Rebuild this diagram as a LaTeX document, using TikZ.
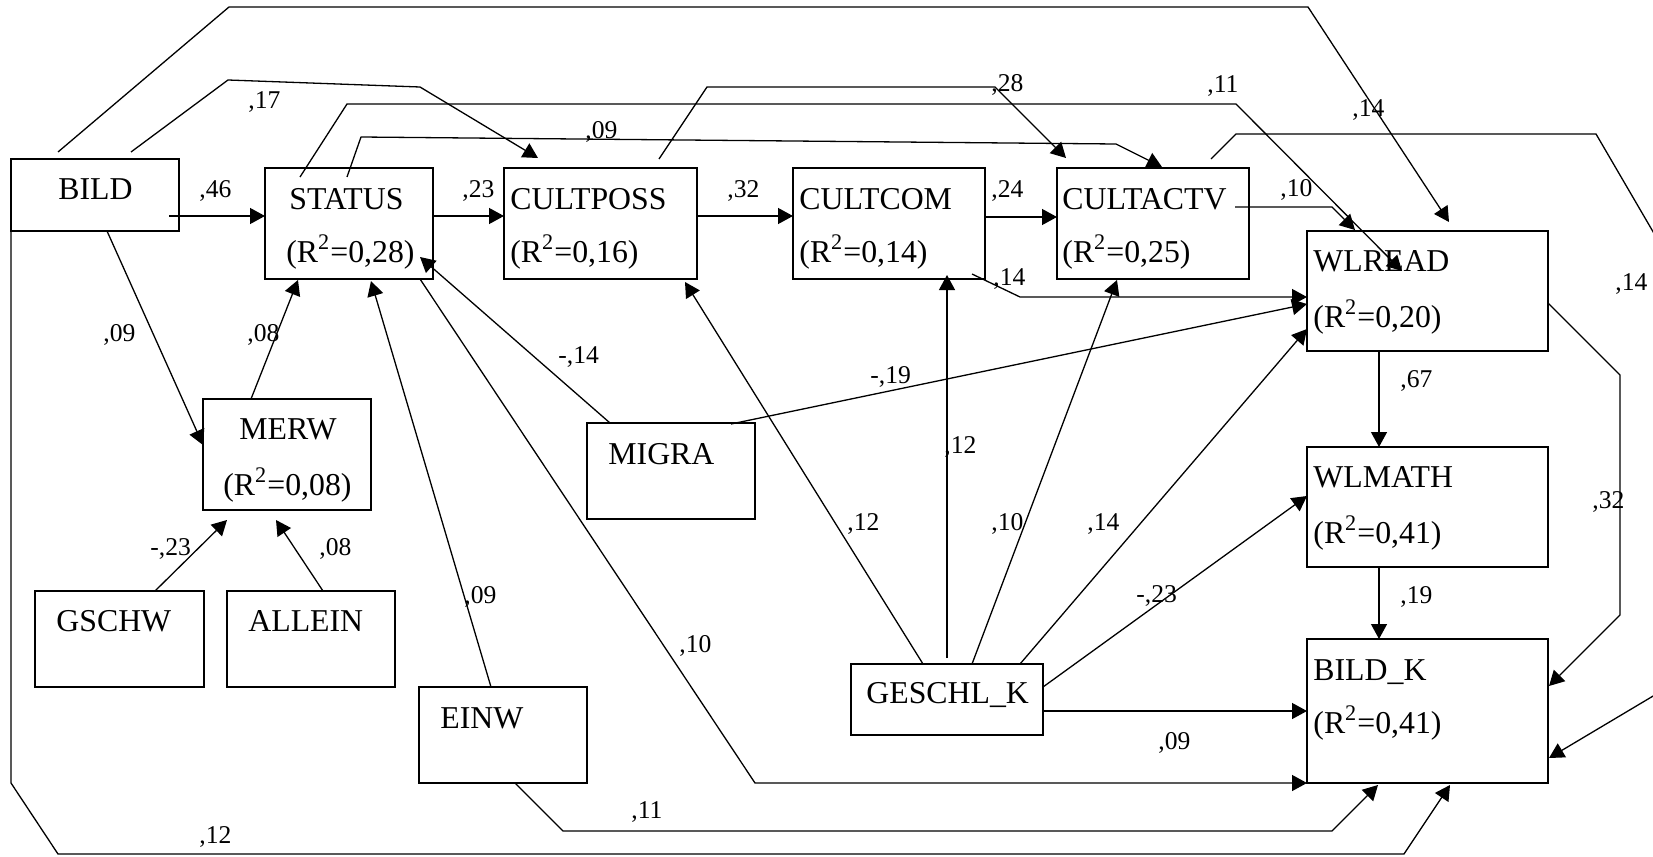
\documentclass[tikz,border=0pt]{standalone}
\usepackage{fontspec}
\setmainfont{Liberation Serif}
\usetikzlibrary{arrows.meta}
\begin{document}
\begin{tikzpicture}[x=0.5pt,y=-0.5pt,
  box/.style={draw,line width=0.75pt,inner sep=0pt,outer sep=0pt,anchor=north west},
  txt/.style={anchor=base west,inner sep=0pt,font=\fontsize{15.9pt}{18pt}\selectfont},
  lbl/.style={anchor=base west,inner sep=0pt,font=\fontsize{12.8pt}{15pt}\selectfont},
  con/.style={line width=0.65pt,line join=round},
  arr/.style={con,-{Triangle[length=7.5pt,width=8pt]}}]
\useasboundingbox (0,0) rectangle (1653,856);
\clip (0,0) rectangle (1653,856);
% boxes
\node[box,minimum width=84pt,minimum height=36pt] (bild) at (11,159) {};
\node[box,minimum width=84pt,minimum height=55.5pt] (status) at (265,168) {};
\node[box,minimum width=96.5pt,minimum height=55.5pt] (cultposs) at (504,168) {};
\node[box,minimum width=96pt,minimum height=55.5pt] (cultcom) at (793,168) {};
\node[box,minimum width=96pt,minimum height=55.5pt] (cultactv) at (1057,168) {};
\node[box,minimum width=120.5pt,minimum height=60pt] (wlread) at (1307,231) {};
\node[box,minimum width=120.5pt,minimum height=60pt] (wlmath) at (1307,447) {};
\node[box,minimum width=120.5pt,minimum height=72pt] (bildk) at (1307,639) {};
\node[box,minimum width=84pt,minimum height=55.5pt] (merw) at (203,399) {};
\node[box,minimum width=84.5pt,minimum height=48pt] (gschw) at (35,591) {};
\node[box,minimum width=84pt,minimum height=48pt] (allein) at (227,591) {};
\node[box,minimum width=84pt,minimum height=48pt] (einw) at (419,687) {};
\node[box,minimum width=84pt,minimum height=48pt] (migra) at (587,423) {};
\node[box,minimum width=96pt,minimum height=35.5pt] (geschl) at (851,664) {};
% box texts
\node[txt] (bild-a) at (58,199) {BILD};
\node[txt] (status-a) at (289,209) {STATUS};
\node[txt] (status-b) at (286,262) {(R\textsuperscript{2}=0,28)};
\node[txt] (cultposs-a) at (510,209) {CULTPOSS};
\node[txt] (cultposs-b) at (510,262) {(R\textsuperscript{2}=0,16)};
\node[txt] (cultcom-a) at (799,209) {CULTCOM};
\node[txt] (cultcom-b) at (799,262) {(R\textsuperscript{2}=0,14)};
\node[txt] (cultactv-a) at (1062,209) {CULTACTV};
\node[txt] (cultactv-b) at (1062,262) {(R\textsuperscript{2}=0,25)};
\node[txt] (wlread-a) at (1313,271) {WLREAD};
\node[txt] (wlread-b) at (1313,327) {(R\textsuperscript{2}=0,20)};
\node[txt] (wlmath-a) at (1313,487) {WLMATH};
\node[txt] (wlmath-b) at (1313,543) {(R\textsuperscript{2}=0,41)};
\node[txt] (bildk-a) at (1313,680) {BILD\_K};
\node[txt] (bildk-b) at (1313,733) {(R\textsuperscript{2}=0,41)};
\node[txt] (merw-a) at (239,439) {MERW};
\node[txt] (merw-b) at (223,495) {(R\textsuperscript{2}=0,08)};
\node[txt] (gschw-a) at (56,631) {GSCHW};
\node[txt] (allein-a) at (248,631) {ALLEIN};
\node[txt] (einw-a) at (440,728) {EINW};
\node[txt] (migra-a) at (608,464) {MIGRA};
\node[txt] (geschl-a) at (866,703) {GESCHL\_K};
% connectors
\draw[arr] ([shift={(47,-7)}]bild.north west) -- (229,7) -- (1308,7) -- ([shift={(142,-9)}]wlread.north west);
\draw[arr] ([shift={(120,-7)}]bild.north west) -- (228,80) -- (420,87) -- ([shift={(34,-10)}]cultposs.north west);
\draw[arr] ([shift={(158,57)}]bild.north west) -- ([shift={(0,48)}]status.north west);
\draw[arr] ([shift={(168,48)}]status.north west) -- ([shift={(0,48)}]cultposs.north west);
\draw[arr] ([shift={(193,48)}]cultposs.north west) -- ([shift={(0,48)}]cultcom.north west);
\draw[arr] ([shift={(192,49)}]cultcom.north west) -- ([shift={(0,49)}]cultactv.north west);
\draw[arr] ([shift={(35,9)}]status.north west) -- (347,104) -- (1236,104) -- ([shift={(95,40)}]wlread.north west);
\draw[arr] ([shift={(82,9)}]status.north west) -- (361,137) -- (1116,144) -- ([shift={(105,-1)}]cultactv.north west);
\draw[arr] ([shift={(155,-9)}]cultposs.north west) -- (707,87) -- (995,87) -- ([shift={(9,-10)}]cultactv.north west);
\draw[arr] ([shift={(178,39)}]cultactv.north west) -- (1332,207) -- ([shift={(48,-1)}]wlread.north west);
\draw[arr] ([shift={(154,-9)}]cultactv.north west) -- (1236,134) -- (1596,134) -- (1680,278) -- (1680,680) -- ([shift={(242,119)}]bildk.north west);
\draw[arr] ([shift={(179,106)}]cultcom.north west) -- (1020,297) -- ([shift={(0,66)}]wlread.north west);
\draw[arr] ([shift={(144,1)}]migra.north west) -- ([shift={(0,73)}]wlread.north west);
\draw[arr] ([shift={(23,0)}]migra.north west) -- ([shift={(155,89)}]status.north west);
\draw[arr] ([shift={(72,0)}]geschl.north west) -- ([shift={(181,114)}]cultposs.north west);
\draw[arr] ([shift={(96,-6)}]geschl.north west) -- ([shift={(154,107)}]cultcom.north west);
\draw[arr] ([shift={(121,0)}]geschl.north west) -- ([shift={(60,112)}]cultactv.north west);
\draw[arr] ([shift={(169,0)}]geschl.north west) -- ([shift={(0,98)}]wlread.north west);
\draw[arr] ([shift={(192,23)}]geschl.north west) -- ([shift={(0,49)}]wlmath.north west);
\draw[arr] ([shift={(192,47)}]geschl.north west) -- ([shift={(0,72)}]bildk.north west);
\draw[arr] ([shift={(155,111)}]status.north west) -- (755,783) -- ([shift={(0,144)}]bildk.north west);
\draw[arr] ([shift={(72,0)}]einw.north west) -- ([shift={(106,113)}]status.north west);
\draw[arr] ([shift={(96,96)}]einw.north west) -- (563,831) -- (1332,831) -- ([shift={(71,146)}]bildk.north west);
\draw[arr] (bild.south west) -- (11,783) -- (58,854) -- (1404,854) -- ([shift={(143,146)}]bildk.north west);
\draw[arr] ([shift={(96,72)}]bild.north west) -- ([shift={(0,46)}]merw.north west);
\draw[arr] ([shift={(48,0)}]merw.north west) -- ([shift={(33,112)}]status.north west);
\draw[arr] ([shift={(120,0)}]gschw.north west) -- ([shift={(24,121)}]merw.north west);
\draw[arr] ([shift={(96,0)}]allein.north west) -- ([shift={(73,121)}]merw.north west);
\draw[arr] ([shift={(72,120)}]wlread.north west) -- ([shift={(72,0)}]wlmath.north west);
\draw[arr] ([shift={(72,120)}]wlmath.north west) -- ([shift={(72,0)}]bildk.north west);
\draw[arr] ([shift={(241,72)}]wlread.north west) -- (1620,375) -- (1620,615) -- ([shift={(242,47)}]bildk.north west);
% labels
\node[lbl] (l01) at (1352,117) {,14};
\node[lbl] (l02) at (248,109) {,17};
\node[lbl] (l03) at (199,197) {,46};
\node[lbl] (l04) at (462,197) {,23};
\node[lbl] (l05) at (727,197) {,32};
\node[lbl] (l06) at (991,197) {,24};
\node[lbl] (l07) at (1207,93) {,11};
\node[lbl] (l08) at (585,139) {,09};
\node[lbl] (l09) at (991,91) {,28};
\node[lbl] (l10) at (1280,196) {,10};
\node[lbl] (l11) at (1615,290) {,14};
\node[lbl] (l12) at (993,285) {,14};
\node[lbl] (l13) at (870,383) {-,19};
\node[lbl] (l14) at (558,363) {-,14};
\node[lbl] (l15) at (847,530) {,12};
\node[lbl] (l16) at (944,453) {,12};
\node[lbl] (l17) at (991,530) {,10};
\node[lbl] (l18) at (1087,530) {,14};
\node[lbl] (l19) at (1136,602) {-,23};
\node[lbl] (l20) at (1158,749) {,09};
\node[lbl] (l21) at (679,652) {,10};
\node[lbl] (l22) at (464,603) {,09};
\node[lbl] (l23) at (631,818) {,11};
\node[lbl] (l24) at (199,843) {,12};
\node[lbl] (l25) at (103,341) {,09};
\node[lbl] (l26) at (247,341) {,08};
\node[lbl] (l27) at (150,555) {-,23};
\node[lbl] (l28) at (319,555) {,08};
\node[lbl] (l29) at (1400,387) {,67};
\node[lbl] (l30) at (1400,603) {,19};
\node[lbl] (l31) at (1592,508) {,32};
\end{tikzpicture}
\end{document}
